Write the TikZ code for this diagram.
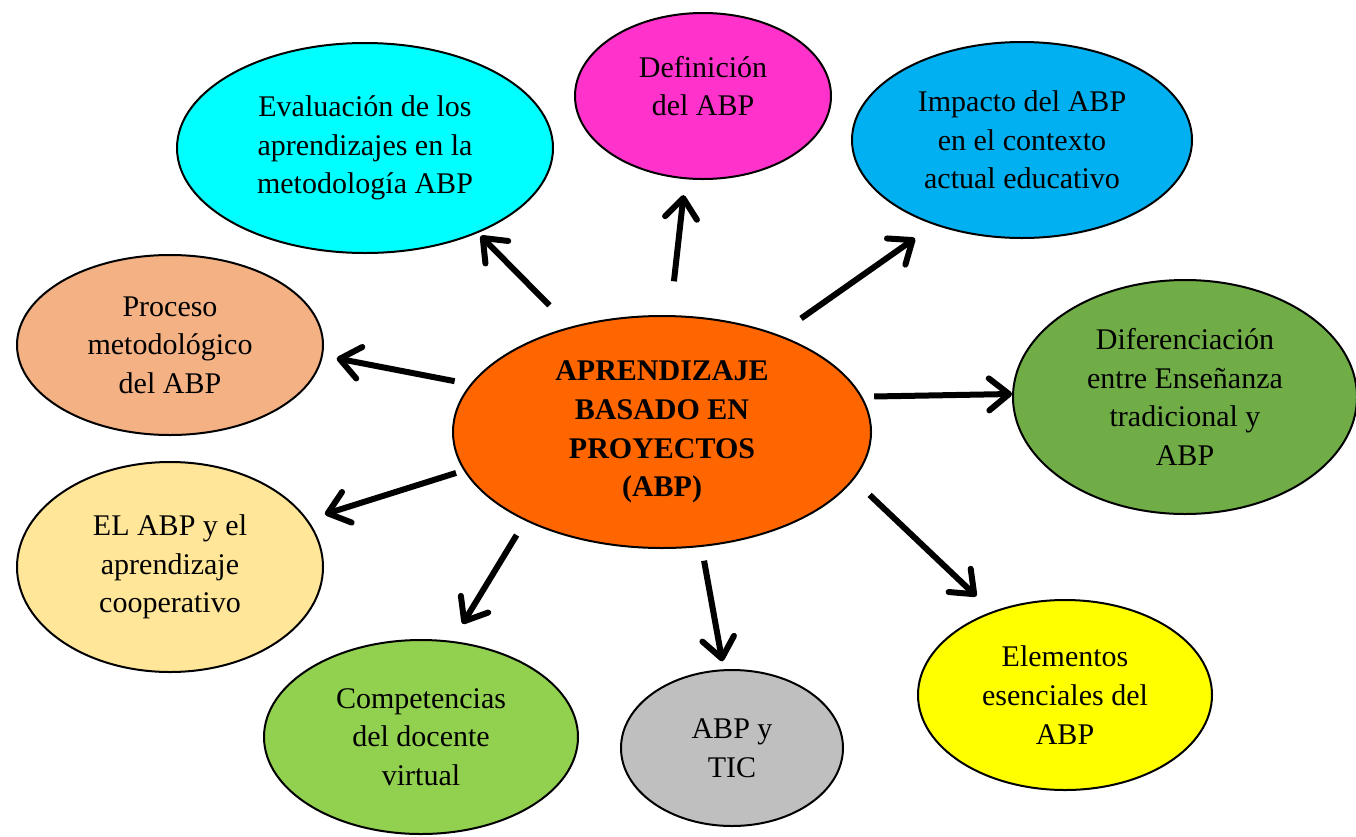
\documentclass[tikz,border=0pt]{standalone}
\usepackage{fontspec}
\setmainfont{Liberation Serif}
\usetikzlibrary{shapes.geometric,arrows.meta}
\definecolor{naranja}{HTML}{FF6600}
\definecolor{magenta1}{HTML}{FF33CC}
\definecolor{cian}{HTML}{00FFFF}
\definecolor{azul}{HTML}{00B0F0}
\definecolor{salmon}{HTML}{F4B183}
\definecolor{verde}{HTML}{70AD47}
\definecolor{crema}{HTML}{FFE699}
\definecolor{lima}{HTML}{92D050}
\definecolor{gris}{HTML}{BFBFBF}
\definecolor{amarillo}{HTML}{FFFF00}
\tikzset{
  bub/.style n args={3}{ellipse, draw, line width=1.5pt, fill=#1, minimum width=#2, minimum height=#3,
    inner sep=0pt, align=center, font=\fontsize{22.5}{29}\selectfont},
  arr/.style={line width=4.5pt, -{Straight Barb[length=15pt,width=24pt,round]}}
}
\begin{document}
\begin{tikzpicture}[x=0.75pt,y=-0.75pt]
\useasboundingbox (0,0) rectangle (1356,836);
%centro
\node[bub={naranja}{313.5pt}{174pt}, font=\fontsize{22.5}{29}\selectfont\bfseries] (abp) at (662,432) {APRENDIZAJE\\BASADO EN\\PROYECTOS\\(ABP)};
%arriba
\node[bub={cian}{282pt}{157.5pt}] (eval) at (365,148) {Evaluación de los\\aprendizajes en la\\metodología ABP};
\node[bub={magenta1}{192pt}{124.5pt}] (def) at (703,96) {Definición\\del ABP\\[-14pt]\mbox{}};
\node[bub={azul}{255pt}{147pt}] (imp) at (1022,140) {Impacto del ABP\\en el contexto\\actual educativo};
%izquierda
\node[bub={salmon}{229.5pt}{135pt}] (proc) at (170,345) {Proceso\\metodológico\\del ABP};
\node[bub={crema}{229.5pt}{157.5pt}] (coop) at (170,567) {EL ABP y el\\aprendizaje\\cooperativo};
%derecha
\node[bub={verde}{258pt}{175.5pt}] (dif) at (1185,397) {Diferenciación\\entre Enseñanza\\tradicional y\\ABP};
\node[bub={amarillo}{220.5pt}{142.5pt}] (elem) at (1065,695) {Elementos\\esenciales del\\ABP};
%abajo
\node[bub={lima}{235.5pt}{145.5pt}] (comp) at (421,737) {Competencias\\del docente\\virtual};
\node[bub={gris}{166.5pt}{117pt}] (tic) at (732,748) {ABP y\\TIC};
%flechas
\draw[arr, shorten <=22.5pt, shorten >=3pt] (abp.131) -- (eval.-37);
\draw[arr, shorten <=25.5pt, shorten >=12pt] (abp.86) -- (def.-102);
\draw[arr, shorten <=21pt, shorten >=17.5pt] (abp.40) -- (imp.-136);
\draw[arr, shorten <=9pt] (abp.10) -- (dif.179);
\draw[arr, shorten <=12pt, shorten >=10.5pt] (abp.166) -- (proc.-4);
\draw[arr, shorten <=6pt, shorten >=13.5pt] (abp.191) -- (coop.19);
\draw[arr, shorten <=12.5pt, shorten >=15pt] (abp.213) -- (comp.72);
\draw[arr, shorten <=10.5pt, shorten >=6pt] (abp.-71) -- (tic.96);
\draw[arr, shorten <=16.5pt, shorten >=16.5pt] (abp.-14) -- (elem.131);
\end{tikzpicture}
\end{document}
